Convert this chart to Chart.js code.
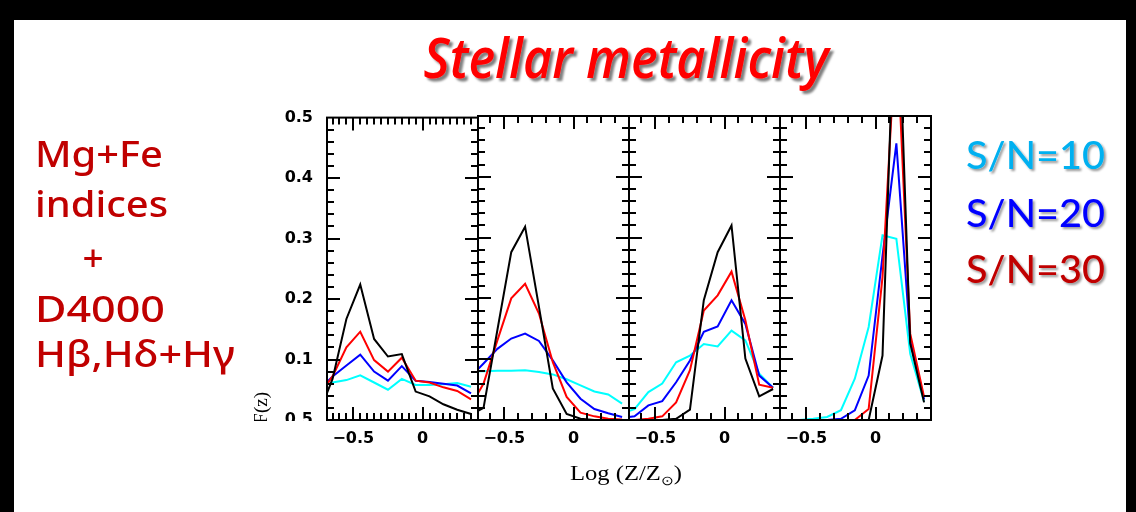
<!DOCTYPE html>
<html>
<head>
<meta charset="utf-8">
<script src="https://cdn.jsdelivr.net/npm/chart.js@4.4.0/dist/chart.umd.min.js"></script>
<style>
  html, body { margin: 0; padding: 0; background: #000; width: 1136px; height: 512px; overflow: hidden; }
  #slide { position: absolute; left: 14px; top: 20px; width: 1112px; height: 492px; background: #fff; }
  .panel { position: absolute; top: 100px; }
  svg { position: absolute; left: 0; top: 0; }
</style>
</head>
<body>
<div id="slide"></div>
<canvas id="p1" class="panel" style="left:230px; top:94px" width="258" height="366"></canvas>
<canvas id="p2" class="panel" style="left:468px" width="171" height="360"></canvas>
<canvas id="p3" class="panel" style="left:619px" width="171" height="360"></canvas>
<canvas id="p4" class="panel" style="left:770px" width="171" height="360"></canvas>

<svg width="1136" height="512">
  <defs>
    <filter id="sh" x="-5%" y="-20%" width="112%" height="150%">
      <feDropShadow dx="3" dy="3" stdDeviation="1.2" flood-color="#000" flood-opacity="0.5"/>
    </filter>
    <filter id="sh2" x="-5%" y="-20%" width="112%" height="150%">
      <feDropShadow dx="2" dy="2" stdDeviation="1" flood-color="#000" flood-opacity="0.4"/>
    </filter>
  </defs>
  <text x="626" y="78" text-anchor="middle" textLength="405" lengthAdjust="spacingAndGlyphs"
        fill="#ff0000" filter="url(#sh)" style="font: italic 600 56px 'Open Sans'">Stellar metallicity</text>

  <g fill="#c00000" style="font: 500 37px 'Noto Sans'">
    <text x="35" y="167" textLength="128" lengthAdjust="spacingAndGlyphs">Mg+Fe</text>
    <text x="35" y="217" textLength="133" lengthAdjust="spacingAndGlyphs">indices</text>
    <text x="93" y="271" text-anchor="middle">+</text>
    <text x="35" y="322" textLength="130" lengthAdjust="spacingAndGlyphs">D4000</text>
    <text x="35" y="367" textLength="200" lengthAdjust="spacingAndGlyphs">Hβ,Hδ+Hγ</text>
  </g>

  <g filter="url(#sh2)" style="font: 500 38px 'Lato'">
    <text x="966" y="169" textLength="139" lengthAdjust="spacingAndGlyphs" fill="#00b0f0">S/N=10</text>
    <text x="966" y="227" textLength="139" lengthAdjust="spacingAndGlyphs" fill="#0000ff">S/N=20</text>
    <text x="966" y="283" textLength="139" lengthAdjust="spacingAndGlyphs" fill="#c00000">S/N=30</text>
  </g>

  <text x="626" y="480" text-anchor="middle" textLength="112" lengthAdjust="spacingAndGlyphs"
        style="font: 21px 'Liberation Serif'">Log (Z/Z<tspan font-size="13" dy="5">⊙</tspan><tspan dy="-5">)</tspan></text>
</svg>

<script>
// log(Z/Zsun) bin centres, same for every panel
const logZ = [-0.75, -0.65, -0.55, -0.45, -0.35, -0.25, -0.15, -0.05, 0.05, 0.15, 0.25, 0.35];
const xTickVals = [-0.5, 0];
const yTickLabels = ['0.5', '0.1', '0.2', '0.3', '0.4', '0.5'];

// panel 1
const p1Black = [0.010, 0.068, 0.167, 0.224, 0.134, 0.105, 0.109, 0.047, 0.039, 0.026, 0.017, 0.010];
const p1Red   = [0.040, 0.072, 0.120, 0.146, 0.099, 0.080, 0.103, 0.065, 0.062, 0.054, 0.048, 0.034];
const p1Blue  = [0.050, 0.072, 0.090, 0.108, 0.080, 0.065, 0.089, 0.065, 0.063, 0.060, 0.057, 0.044];
const p1Cyan  = [0.056, 0.062, 0.066, 0.074, 0.062, 0.050, 0.068, 0.058, 0.058, 0.059, 0.061, 0.055];

// panel 2
const p2Black = [0.008, 0.020, 0.148, 0.276, 0.318, 0.186, 0.052, 0.010, 0.002, 0, 0, 0];
const p2Red   = [0.020, 0.060, 0.131, 0.200, 0.224, 0.175, 0.095, 0.038, 0.012, 0.006, 0.002, 0.001];
const p2Blue  = [0.070, 0.093, 0.117, 0.134, 0.142, 0.130, 0.098, 0.062, 0.035, 0.018, 0.011, 0.005];
const p2Cyan  = [0.080, 0.080, 0.081, 0.081, 0.082, 0.079, 0.075, 0.067, 0.057, 0.047, 0.042, 0.027];

// panel 3
const p3Black = [0, 0, 0, 0, 0.002, 0.017, 0.197, 0.276, 0.320, 0.101, 0.039, 0.051];
const p3Red   = [0, 0, 0.002, 0.006, 0.029, 0.082, 0.180, 0.205, 0.244, 0.164, 0.058, 0.053];
const p3Blue  = [0.003, 0.006, 0.024, 0.031, 0.062, 0.098, 0.145, 0.154, 0.197, 0.158, 0.073, 0.053];
const p3Cyan  = [0.010, 0.018, 0.046, 0.060, 0.095, 0.106, 0.125, 0.121, 0.147, 0.131, 0.076, 0.053];

// panel 4
const p4Black = [0, 0, 0, 0, 0, 0, 0, 0, 0.106, 0.78, 0.126, 0.029];
const p4Red   = [0, 0, 0, 0, 0, 0, 0, 0.018, 0.235, 0.65, 0.142, 0.038];
const p4Blue  = [0, 0, 0, 0, 0, 0.002, 0.016, 0.073, 0.270, 0.455, 0.131, 0.034];
const p4Cyan  = [0, 0, 0, 0.002, 0.005, 0.016, 0.068, 0.153, 0.304, 0.298, 0.109, 0.030];

const xMin = -0.69, xMax = 0.40;
const tickFont = { family: 'DejaVu Sans', weight: 'bold', size: 16 };

// box with inward ticks on all four sides, like the pgplot frame
const framePlugin = {
    id: 'frame',
    afterDatasetsDraw(chart, args, opts) {
        const { ctx, chartArea: a, scales: { x, y } } = chart;
        ctx.save();
        ctx.strokeStyle = '#000';
        ctx.lineWidth = 2;
        ctx.strokeRect(a.left, a.top, a.right - a.left, a.bottom - a.top);
        ctx.beginPath();
        for (let k = Math.ceil(x.min / opts.minorX); k * opts.minorX <= x.max; k++) {
            const v = k * opts.minorX;
            const major = Math.abs(v / 0.5 - Math.round(v / 0.5)) < 1e-6;
            const len = major ? 13 : 7;
            const px = Math.round(x.getPixelForValue(v));
            ctx.moveTo(px, a.bottom); ctx.lineTo(px, a.bottom - len);
            ctx.moveTo(px, a.top); ctx.lineTo(px, a.top + len);
        }
        for (let k = 1; k < 25; k++) {
            const len = k % 5 == 0 ? 13 : 7;
            const py = Math.round(y.getPixelForValue(k * 0.02));
            ctx.moveTo(a.left, py); ctx.lineTo(a.left + len, py);
            ctx.moveTo(a.right, py); ctx.lineTo(a.right - len, py);
        }
        ctx.stroke();
        ctx.restore();
    },
    afterDraw(chart, args, opts) {
        if (!opts.yTitle) return;
        const { ctx, chartArea: a } = chart;
        ctx.save();
        // the bottom label and the axis title are cut off at the frame bottom
        ctx.fillStyle = '#fff';
        ctx.fillRect(0, a.bottom + 1, a.left - 1, 14);
        ctx.beginPath();
        ctx.rect(0, 0, a.left, a.bottom + 1);
        ctx.clip();
        ctx.translate(32, a.bottom - 28);
        ctx.rotate(-Math.PI / 2);
        ctx.font = '19px "Liberation Serif"';
        ctx.fillStyle = '#000';
        ctx.textAlign = 'right';
        ctx.textBaseline = 'middle';
        ctx.fillText(opts.yTitle, 0, 0);
        ctx.restore();
    }
};

function makePanel(id, black, red, blue, cyan, minorX, first) {
    const ds = (arr, col) => ({ data: arr, borderColor: col, borderWidth: 2, pointRadius: 0, tension: 0, clip: 0 });
    return new Chart(document.getElementById(id), {
        type: 'line',
        data: {
            labels: logZ,
            datasets: [ds(black, '#000000'), ds(red, '#ff0000'), ds(blue, '#0000ff'), ds(cyan, '#00ffff')]
        },
        options: {
            responsive: false,
            animation: false,
            events: [],
            layout: { padding: { top: first ? 0 : 16, right: 10, left: first ? 0 : 10, bottom: 0 } },
            plugins: {
                legend: { display: false },
                tooltip: { enabled: false },
                frame: { minorX: minorX, yTitle: first ? 'F(z)' : '' }
            },
            scales: {
                x: {
                    type: 'linear', min: xMin, max: xMax,
                    grid: { display: false, drawTicks: false },
                    border: { display: false },
                    afterBuildTicks: s => { s.ticks = xTickVals.map(v => ({ value: v })); },
                    afterFit: s => { s.height = 40; },
                    ticks: {
                        padding: 9, color: '#000', font: tickFont, maxRotation: 0, autoSkip: false,
                        callback: v => v == 0 ? '0' : '\u2212' + Math.abs(v)
                    }
                },
                y: {
                    display: first, min: 0, max: 0.5,
                    grid: { display: false, drawTicks: false },
                    border: { display: false },
                    afterFit: s => { s.width = first ? 97 : 0; },
                    ticks: {
                        stepSize: 0.1, padding: 14, color: '#000', font: tickFont,
                        callback: (v, i) => yTickLabels[i]
                    }
                }
            }
        },
        plugins: [framePlugin]
    });
}

makePanel('p1', p1Black, p1Red, p1Blue, p1Cyan, 0.05, true);
makePanel('p2', p2Black, p2Red, p2Blue, p2Cyan, 0.1, false);
makePanel('p3', p3Black, p3Red, p3Blue, p3Cyan, 0.1, false);
makePanel('p4', p4Black, p4Red, p4Blue, p4Cyan, 0.1, false);
</script>
</body>
</html>
